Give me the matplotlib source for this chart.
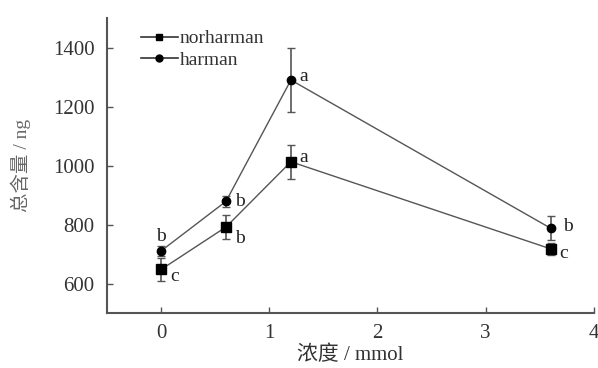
import matplotlib
matplotlib.use("Agg")
import matplotlib.pyplot as plt
from matplotlib.lines import Line2D

x = [0, 0.6, 1.2, 3.6]
norharman = [648, 792, 1013, 718]
norharman_err = [40, 40, 57, 20]
harman = [711, 879, 1290, 788]
harman_err = [17, 18, 110, 40]
nor_letters = ["c", "b", "a", "c"]
har_letters = ["b", "b", "a", "b"]
xticks = [0, 1, 2, 3, 4]
yticks = [600, 800, 1000, 1200, 1400]

plt.rcParams['font.family'] = 'serif'
plt.rcParams['font.serif'] = ['Liberation Serif', 'DejaVu Serif']
SER = ['Liberation Serif', 'Noto Sans CJK SC']
gray = '#555555'

fig = plt.figure(figsize=(5.98, 3.68), dpi=100)
ax = fig.add_axes([0.179, 0.149, 0.814, 0.802])

ax.errorbar(x, norharman, yerr=norharman_err, color=gray, lw=1.0, marker='s', ms=7.5,
            mfc='black', mec='black', ecolor=gray, elinewidth=1.2, capsize=3)
ax.errorbar(x, harman, yerr=harman_err, color=gray, lw=1.0, marker='o', ms=6,
            mfc='black', mec='black', ecolor=gray, elinewidth=1.2, capsize=3)

# letters
nor_off = [(0.08, -25), (0.08, -40), (0.08, 15), (0.08, -15)]
har_off = [(-0.02, 50), (0.08, -2), (0.08, 12), (0.12, 5)]
for xi, yi, l, (dx, dy) in zip(x, norharman, nor_letters, nor_off):
    ax.text(xi + dx, yi + dy, l, fontsize=14, color='#222222', ha='left', va='center')
for xi, yi, l, (dx, dy) in zip(x, harman, har_letters, har_off):
    ha = 'center' if dx < 0 else 'left'
    ax.text(xi + (0 if dx < 0 else dx), yi + dy, l, fontsize=14, color='#222222', ha=ha, va='center')

ax.set_xlim(-0.5, 4.0)
ax.set_ylim(500, 1500)
ax.set_xticks(xticks)
ax.set_yticks(yticks)
ax.tick_params(direction='in', colors=gray, labelcolor='#333333', labelsize=15, length=4, width=1)
ax.tick_params(axis='y', pad=9)
ax.tick_params(axis='x', pad=8)
for s in ['top', 'right']:
    ax.spines[s].set_visible(False)
for s in ['left', 'bottom']:
    ax.spines[s].set_color(gray)
    ax.spines[s].set_linewidth(1.5)

ax.set_xlabel('浓度 / mmol', fontsize=15, color='#333333', family=SER, labelpad=2)
ax.set_ylabel('总含量 / ng', fontsize=14, color='#666666', family=SER, labelpad=16)

handles = [
    Line2D([], [], color='#333333', lw=1.2, marker='s', ms=5, mfc='black', mec='black'),
    Line2D([], [], color='#333333', lw=1.2, marker='o', ms=5, mfc='black', mec='black'),
]
leg = ax.legend(handles, ['norharman', 'harman'], loc='upper left', bbox_to_anchor=(0.045, 1.0),
                frameon=False, fontsize=14, handlelength=1.9, handletextpad=0.1,
                labelspacing=0.2, borderaxespad=0.2)
for t in leg.get_texts():
    t.set_color('#333333')

fig.savefig('out.png', dpi=100)
